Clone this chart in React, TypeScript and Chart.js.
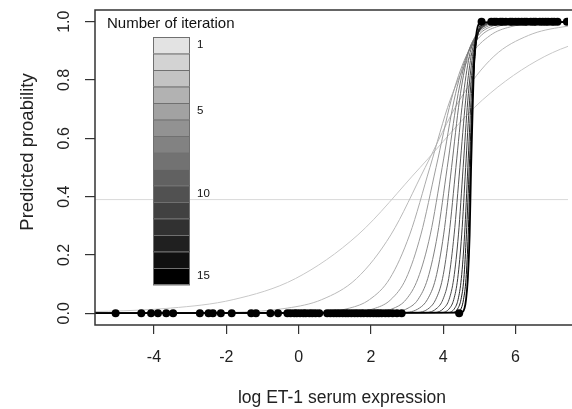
import { useEffect, useRef } from "react";
import { Chart, registerables } from "chart.js";
Chart.register(...registerables);

// ---- axis ticks / labels ----
const xTicks = [-4, -2, 0, 2, 4, 6];
const xTickLabels = ["-4", "-2", "0", "2", "4", "6"];
const yTicks = [0, 0.2, 0.4, 0.6, 0.8, 1.0];
const yTickLabels = ["0.0", "0.2", "0.4", "0.6", "0.8", "1.0"];
const xTitle = "log ET-1 serum expression";
const yTitle = "Predicted proability";
const legendTitle = "Number of iteration";
const legendLabelIters = [1, 5, 10, 15];

// ---- observed data points ----
const lowerDotsX = [
  -5.06, -4.35, -4.08, -3.89, -3.66, -3.47, -2.73, -2.49, -2.37, -2.15, -1.85, -1.31, -1.18, -0.78, -0.57,
  -0.31, -0.22, -0.12, -0.05, 0.04, 0.13, 0.2, 0.3, 0.38, 0.47, 0.57,
  0.79, 0.88, 0.97, 1.05, 1.13, 1.22, 1.3, 1.37, 1.46, 1.55, 1.63, 1.72, 1.8, 1.9, 1.98, 2.07, 2.15, 2.22, 2.3,
  2.4, 2.49, 2.6, 2.72, 2.85, 4.44,
];
const upperDotsX = [
  5.06, 5.33, 5.41, 5.47, 5.58, 5.64, 5.73, 5.85, 5.91, 6.0, 6.08, 6.17, 6.25, 6.31, 6.42, 6.5, 6.56,
  6.67, 6.75, 6.83, 6.9, 7.0, 7.07, 7.16, 7.42,
];

// ---- fitted curves: probability levels and the x where each iteration's curve reaches them ----
const probLevels = [0, 0.0025, 0.018, 0.047, 0.119, 0.269, 0.5, 0.731, 0.881, 0.953, 0.982, 0.9975, 1];
const iter1X = [-8, -6.98, -3.54, -1.81, -0.09, 1.64, 3.36, 5.08, 6.81, 8.53, 10.26, 13.7, 15];
const iter2X = [-8, -2.21, -0.31, 0.64, 1.6, 2.55, 3.5, 4.45, 5.4, 6.36, 7.31, 9.21, 15];
const iter3X = [-8, 0.3, 1.41, 1.96, 2.52, 3.07, 3.63, 4.19, 4.74, 5.3, 5.85, 6.96, 15];
const iter4X = [-8, 1.3, 2.13, 2.55, 2.97, 3.38, 3.8, 4.22, 4.63, 5.05, 5.47, 6.3, 15];
const iter5X = [-8, 1.97, 2.64, 2.97, 3.3, 3.64, 3.97, 4.3, 4.64, 4.97, 5.3, 5.97, 15];
const iter6X = [-8, 2.49, 3.03, 3.3, 3.57, 3.84, 4.11, 4.38, 4.65, 4.92, 5.19, 5.73, 15];
const iter7X = [-8, 2.9, 3.34, 3.56, 3.79, 4.01, 4.23, 4.45, 4.67, 4.9, 5.12, 5.56, 15];
const iter8X = [-8, 3.24, 3.61, 3.79, 3.98, 4.16, 4.35, 4.54, 4.72, 4.91, 5.09, 5.46, 15];
const iter9X = [-8, 3.52, 3.83, 3.99, 4.15, 4.3, 4.46, 4.62, 4.77, 4.93, 5.09, 5.4, 15];
const iter10X = [-8, 3.76, 4.02, 4.16, 4.29, 4.42, 4.55, 4.68, 4.81, 4.94, 5.08, 5.34, 15];
const iter11X = [-8, 3.95, 4.18, 4.29, 4.4, 4.51, 4.62, 4.73, 4.84, 4.95, 5.06, 5.29, 15];
const iter12X = [-8, 4.13, 4.32, 4.41, 4.5, 4.59, 4.68, 4.77, 4.86, 4.95, 5.04, 5.23, 15];
const iter13X = [-8, 4.26, 4.41, 4.49, 4.57, 4.64, 4.72, 4.8, 4.87, 4.95, 5.03, 5.18, 15];
const iter14X = [-8, 4.38, 4.5, 4.56, 4.63, 4.69, 4.75, 4.81, 4.88, 4.94, 5.0, 5.13, 15];
const iter15X = [-8, 4.5, 4.59, 4.63, 4.68, 4.73, 4.77, 4.82, 4.86, 4.91, 4.95, 5.04, 15];
const iterationCurves = [
  iter1X, iter2X, iter3X, iter4X, iter5X, iter6X, iter7X, iter8X,
  iter9X, iter10X, iter11X, iter12X, iter13X, iter14X, iter15X,
];
const refLineY = 0.39;

const FONT = '"Liberation Sans", Arial, Helvetica, sans-serif';
const grayLevel = (i: number, top: number) => {
  const n = iterationCurves.length;
  const g = Math.round((top * (n - 1 - i)) / (n - 1));
  return `rgb(${g},${g},${g})`;
};
const boxGray = (i: number) => grayLevel(i, 227);
const lineGray = (i: number) => grayLevel(i, 200);

const overlay = {
  id: "overlay",
  afterDatasetsDraw(chart: any) {
    const { ctx, chartArea, scales } = chart;
    const { left, top, right, bottom } = chartArea;
    const x = scales.x;
    const y = scales.y;
    ctx.save();
    // legend colour bar
    const n = iterationCurves.length;
    const bx = left + 58;
    const bw = 37;
    const by = top + 27;
    const bh = 16.5;
    for (let i = 0; i < n; i++) {
      ctx.fillStyle = boxGray(i);
      ctx.fillRect(bx, by + i * bh, bw, bh);
      ctx.strokeStyle = "#707070";
      ctx.lineWidth = 1;
      ctx.strokeRect(bx + 0.5, by + i * bh + 0.5, bw - 1, bh);
    }
    ctx.fillStyle = "#111";
    ctx.textBaseline = "middle";
    ctx.textAlign = "left";
    ctx.font = `11.5px ${FONT}`;
    legendLabelIters.forEach((it) => {
      ctx.fillText(String(it), left + 102, by + (it - 0.5) * bh);
    });
    ctx.font = `15px ${FONT}`;
    ctx.fillText(legendTitle, left + 12, top + 14);

    // box (left, top, bottom)
    ctx.strokeStyle = "#333";
    ctx.lineWidth = 1.5;
    ctx.beginPath();
    ctx.moveTo(right + 5, top);
    ctx.lineTo(left, top);
    ctx.lineTo(left, bottom);
    ctx.lineTo(right + 5, bottom);
    ctx.stroke();

    // tick labels
    ctx.fillStyle = "#222";
    ctx.font = `16px ${FONT}`;
    ctx.textAlign = "center";
    xTicks.forEach((v, i) => ctx.fillText(xTickLabels[i], x.getPixelForValue(v), bottom + 33));
    yTicks.forEach((v, i) => {
      ctx.save();
      ctx.translate(left - 30, y.getPixelForValue(v));
      ctx.rotate(-Math.PI / 2);
      ctx.fillText(yTickLabels[i], 0, 0);
      ctx.restore();
    });
    // axis titles
    ctx.font = `17.5px ${FONT}`;
    ctx.fillText(xTitle, left + 247, bottom + 73);
    ctx.save();
    ctx.font = `18.5px ${FONT}`;
    ctx.translate(left - 67, top + 142);
    ctx.rotate(-Math.PI / 2);
    ctx.fillText(yTitle, 0, 0);
    ctx.restore();
    ctx.restore();
  },
};

export default function App() {
  const ref = useRef<HTMLCanvasElement>(null);
  useEffect(() => {
    const dots = [
      ...lowerDotsX.map((v) => ({ x: v, y: 0 })),
      ...upperDotsX.map((v) => ({ x: v, y: 1 })),
    ];
    const curveSets = iterationCurves
      .map((xs, i) => ({
        label: `Iteration ${i + 1}`,
        data: xs.map((xv, j) => ({ x: xv, y: probLevels[j] })),
        showLine: true,
        borderColor: lineGray(i),
        borderWidth: i === iterationCurves.length - 1 ? 1.8 : 1,
        pointRadius: 0,
        cubicInterpolationMode: "monotone" as const,
      }))
      .reverse();
    const chart = new Chart(ref.current!, {
      type: "scatter",
      data: {
        datasets: [
          {
            label: "Observed",
            data: dots,
            pointRadius: 4,
            pointBackgroundColor: "#000",
            pointBorderWidth: 0,
            showLine: false,
          } as any,
          ...curveSets,
          {
            label: "ref",
            data: [
              { x: -8, y: refLineY },
              { x: 15, y: refLineY },
            ],
            showLine: true,
            borderColor: "#dadada",
            borderWidth: 1,
            pointRadius: 0,
          },
        ],
      },
      options: {
        responsive: false,
        animation: false,
        devicePixelRatio: 1,
        layout: { padding: { top: 10, left: 0, right: 0, bottom: 0 } },
        plugins: { legend: { display: false }, tooltip: { enabled: false } },
        scales: {
          x: {
            type: "linear",
            min: -5.63,
            max: 7.45,
            afterBuildTicks: (s: any) => {
              s.ticks = xTicks.map((v) => ({ value: v }));
            },
            afterFit: (s: any) => {
              s.height = 84;
            },
            ticks: { display: false },
            grid: { drawOnChartArea: false, drawTicks: true, tickLength: 9, color: "#333", lineWidth: 1.2 },
            border: { display: false },
          },
          y: {
            type: "linear",
            min: -0.04,
            max: 1.04,
            afterBuildTicks: (s: any) => {
              s.ticks = yTicks.map((v) => ({ value: v }));
            },
            afterFit: (s: any) => {
              s.width = 95;
            },
            ticks: { display: false },
            grid: { drawOnChartArea: false, drawTicks: true, tickLength: 10, color: "#333", lineWidth: 1.2 },
            border: { display: false },
          },
        },
      },
      plugins: [overlay],
    });
    return () => chart.destroy();
  }, []);
  return (
    <div style={{ position: "absolute", left: 0, top: 0, width: 572, height: 409 }}>
      <canvas ref={ref} width={572} height={409} style={{ display: "block" }} />
    </div>
  );
}
